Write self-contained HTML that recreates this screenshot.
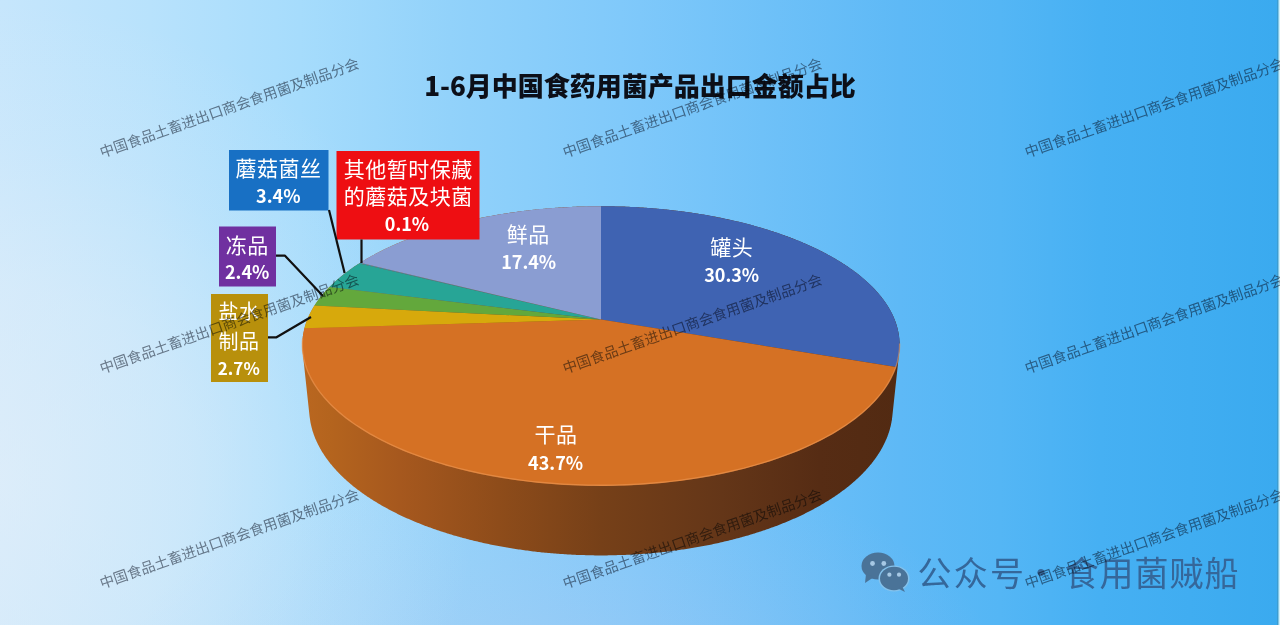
<!DOCTYPE html>
<html lang="zh-CN"><head><meta charset="utf-8"><title>1-6月中国食药用菌产品出口金额占比</title>
<style>
html,body{margin:0;padding:0;}
body{width:1280px;height:625px;overflow:hidden;position:relative;
background:radial-gradient(480px 480px at 0px 480px,rgba(238,242,248,0.55) 0%,rgba(238,242,248,0.4) 40%,rgba(238,242,248,0.15) 70%,rgba(238,242,248,0) 100%),radial-gradient(450px 250px at 560px 700px,rgba(200,200,235,0.3) 0%,rgba(200,200,235,0.15) 50%,rgba(200,200,235,0) 100%),linear-gradient(90deg,#c6e6fc 0px,#b8e2fc 150px,#a6dcfc 300px,#92d2fa 450px,#7ec8fa 640px,#5eb9f6 900px,#54b6f5 1000px,#46b0f3 1100px,#3aaaef 1280px);
font-family:"Liberation Sans","Noto Sans CJK SC",sans-serif;}
svg{position:absolute;left:0;top:0;}
.title{position:absolute;left:0;width:1280px;top:71.5px;text-align:center;font-family:"Noto Sans CJK SC",sans-serif;font-size:26px;line-height:26px;font-weight:900;color:#0c0f18;white-space:nowrap}
.tcs,.tns,.tc,.tn{position:absolute;width:200px;text-align:center;color:#fff;white-space:nowrap;font-family:"Noto Sans CJK SC",sans-serif}
.tc{font-size:21px;line-height:21px;font-weight:400;letter-spacing:0.5px;text-indent:0.5px}
.tn{font-size:18px;line-height:18px;font-weight:700}
.tcs{font-size:20px;line-height:20px;font-weight:400;letter-spacing:0.5px;text-indent:0.5px}
.tns{font-size:17px;line-height:18px;font-weight:700}
.wm{position:absolute;font-family:"Noto Sans CJK SC",sans-serif;font-size:14.4px;line-height:16px;font-weight:400;color:rgb(128,132,140);mix-blend-mode:multiply;white-space:nowrap;
transform-origin:0 8px;transform:rotate(-19.2deg);}
.wx{position:absolute;top:555px;font-family:"Noto Sans CJK SC",sans-serif;font-size:34px;line-height:34px;font-weight:400;color:#35679a;white-space:nowrap}
</style></head><body>
<svg width="1280" height="625" viewBox="0 0 1280 625">
<defs>
<linearGradient id="side" gradientUnits="userSpaceOnUse" x1="300" y1="0" x2="902" y2="0">
<stop offset="0" stop-color="#ba6720"/><stop offset="0.05" stop-color="#b4641e"/><stop offset="0.166" stop-color="#a6581e"/><stop offset="0.33" stop-color="#8e4c1a"/><stop offset="0.5" stop-color="#764018"/><stop offset="0.7" stop-color="#643618"/><stop offset="0.864" stop-color="#562c14"/><stop offset="1" stop-color="#522a12"/>
</linearGradient>
</defs>
<rect x="1277.5" y="0" width="1" height="625" fill="#3e90b4"/><rect x="1278.5" y="0" width="1.5" height="625" fill="#cdf0fa"/>
<path d="M309.6 416.6L302.7 352.2L302.6 351.6L302.5 350.9L302.5 350.3L302.5 349.7L302.4 349.1L302.4 348.4L302.3 347.8L302.3 347.2L302.3 346.5L302.3 345.9L302.3 345.3L302.3 344.7L302.3 344L302.3 343.4L302.3 342.8L302.4 342.2L302.4 341.6L302.4 340.9L302.5 340.3L302.5 339.7L302.6 339.1L302.6 338.5L302.7 337.8L302.8 337.2L302.8 336.6L302.9 336L303 335.4L303.1 334.8L303.2 334.1L303.3 333.5L303.4 332.9L303.5 332.3L303.7 331.7L303.8 331.1L303.9 330.5L304.1 329.9L304.2 329.3L304.3 328.6L304.5 328L304.7 327.4L304.8 326.8L305 326.2L305.2 325.6L305.4 325L305.5 324.4L305.7 323.8L305.9 323.2L306.1 322.6L306.3 322L306.6 321.4L306.8 320.8L307 320.2L307.2 319.6L307.5 319.1L307.7 318.5L308 317.9L308.2 317.3L308.5 316.7L308.7 316.1L309 315.6L309.3 315L309.5 314.4L309.8 313.8L310.1 313.3L310.4 312.7L310.7 312.1L311 311.5L311.3 311L311.6 310.4L311.9 309.8L312.2 309.3L312.6 308.7L312.9 308.1L313.2 307.6L313.6 307L313.9 306.5L314.3 305.9L314.6 305.3L315 304.8L315.3 304.2L315.7 303.7L316.1 303.1L316.5 302.6L316.9 302L317.2 301.5L317.6 300.9L318 300.4L318.4 299.8L318.8 299.3L319.3 298.7L319.7 298.2L320.1 297.6L320.5 297.1L320.9 296.5L321.4 296L321.8 295.5L322.3 294.9L322.7 294.4L323.2 293.9L323.6 293.3L324.1 292.8L324.5 292.3L325 291.7L325.5 291.2L326 290.7L326.4 290.2L326.9 289.6L327.4 289.1L327.9 288.6L328.4 288.1L328.9 287.5L329.4 287L329.9 286.5L330.5 286L331 285.5L331.5 285L332 284.5L332.6 284L333.1 283.4L333.6 282.9L334.2 282.4L334.7 281.9L335.3 281.4L335.9 280.9L336.4 280.4L337 279.9L337.5 279.4L338.1 278.9L338.7 278.4L339.3 278L339.9 277.5L340.5 277L341 276.5L341.6 276L342.2 275.5L342.8 275L343.5 274.5L344.1 274.1L344.7 273.6L345.3 273.1L345.9 272.6L346.6 272.2L347.2 271.7L347.8 271.2L348.5 270.7L349.1 270.3L349.7 269.8L350.4 269.3L351 268.9L351.7 268.4L352.4 268L353 267.5L353.7 267L354.3 266.6L355 266.1L355.7 265.7L356.4 265.2L357.1 264.8L357.7 264.3L358.4 263.9L359.1 263.4L359.8 263L360.5 262.5L361.2 262.1L361.9 261.7L362.6 261.2L363.4 260.8L364.1 260.4L364.8 259.9L365.5 259.5L366.2 259.1L367 258.6L367.7 258.2L368.4 257.8L369.2 257.4L369.9 256.9L370.7 256.5L371.4 256.1L372.2 255.7L372.9 255.3L373.7 254.9L374.4 254.4L375.2 254L376 253.6L376.7 253.2L377.5 252.8L378.3 252.4L379.1 252L379.8 251.6L380.6 251.2L381.4 250.8L382.2 250.4L383 250L383.8 249.6L384.6 249.2L385.4 248.8L386.2 248.5L387 248.1L387.8 247.7L388.6 247.3L389.4 246.9L390.3 246.5L391.1 246.2L391.9 245.8L392.7 245.4L393.5 245.1L394.4 244.7L395.2 244.3L396 243.9L396.9 243.6L397.7 243.2L398.6 242.9L399.4 242.5L400.3 242.1L401.1 241.8L402 241.4L402.8 241.1L403.7 240.7L404.5 240.4L405.4 240L406.3 239.7L407.1 239.3L408 239L408.9 238.6L409.8 238.3L410.6 238L411.5 237.6L412.4 237.3L413.3 237L414.2 236.6L415.1 236.3L415.9 236L416.8 235.7L417.7 235.3L418.6 235L419.5 234.7L420.4 234.4L421.3 234L422.2 233.7L423.2 233.4L424.1 233.1L425 232.8L425.9 232.5L426.8 232.2L427.7 231.9L428.7 231.6L429.6 231.3L430.5 231L431.4 230.7L432.4 230.4L433.3 230.1L434.2 229.8L435.2 229.5L436.1 229.2L437 228.9L438 228.6L438.9 228.4L439.9 228.1L440.8 227.8L441.8 227.5L442.7 227.2L443.7 227L444.6 226.7L445.6 226.4L446.5 226.2L447.5 225.9L448.4 225.6L449.4 225.4L450.4 225.1L451.3 224.8L452.3 224.6L453.3 224.3L454.3 224.1L455.2 223.8L456.2 223.6L457.2 223.3L458.2 223.1L459.1 222.8L460.1 222.6L461.1 222.3L462.1 222.1L463.1 221.8L464.1 221.6L465 221.4L466 221.1L467 220.9L468 220.7L469 220.4L470 220.2L471 220L472 219.8L473 219.6L474 219.3L475 219.1L476 218.9L477 218.7L478 218.5L479 218.3L480 218.1L481.1 217.8L482.1 217.6L483.1 217.4L484.1 217.2L485.1 217L486.1 216.8L487.2 216.6L488.2 216.5L489.2 216.3L490.2 216.1L491.2 215.9L492.3 215.7L493.3 215.5L494.3 215.3L495.4 215.1L496.4 215L497.4 214.8L498.4 214.6L499.5 214.4L500.5 214.3L501.6 214.1L502.6 213.9L503.6 213.8L504.7 213.6L505.7 213.4L506.7 213.3L507.8 213.1L508.8 213L509.9 212.8L510.9 212.6L512 212.5L513 212.3L514.1 212.2L515.1 212L516.2 211.9L517.2 211.8L518.3 211.6L519.3 211.5L520.4 211.3L521.4 211.2L522.5 211.1L523.5 210.9L524.6 210.8L525.6 210.7L526.7 210.5L527.8 210.4L528.8 210.3L529.9 210.2L530.9 210.1L532 209.9L533.1 209.8L534.1 209.7L535.2 209.6L536.3 209.5L537.3 209.4L538.4 209.3L539.5 209.2L540.5 209.1L541.6 209L542.7 208.9L543.7 208.8L544.8 208.7L545.9 208.6L546.9 208.5L548 208.4L549.1 208.3L550.2 208.2L551.2 208.1L552.3 208L553.4 208L554.4 207.9L555.5 207.8L556.6 207.7L557.7 207.7L558.7 207.6L559.8 207.5L560.9 207.4L562 207.4L563.1 207.3L564.1 207.3L565.2 207.2L566.3 207.1L567.4 207.1L568.5 207L569.5 207L570.6 206.9L571.7 206.9L572.8 206.8L573.9 206.8L574.9 206.7L576 206.7L577.1 206.6L578.2 206.6L579.3 206.6L580.4 206.5L581.4 206.5L582.5 206.5L583.6 206.4L584.7 206.4L585.8 206.4L586.9 206.4L587.9 206.3L589 206.3L590.1 206.3L591.2 206.3L592.3 206.3L593.4 206.2L594.4 206.2L595.5 206.2L596.6 206.2L597.7 206.2L598.8 206.2L599.9 206.2L601 206.2L602 206.2L603.1 206.2L604.2 206.2L605.3 206.2L606.4 206.2L607.5 206.2L608.6 206.2L609.6 206.3L610.7 206.3L611.8 206.3L612.9 206.3L614 206.3L615.1 206.4L616.1 206.4L617.2 206.4L618.3 206.4L619.4 206.5L620.5 206.5L621.6 206.5L622.6 206.6L623.7 206.6L624.8 206.6L625.9 206.7L627 206.7L628.1 206.8L629.1 206.8L630.2 206.9L631.3 206.9L632.4 207L633.5 207L634.5 207.1L635.6 207.1L636.7 207.2L637.8 207.3L638.9 207.3L639.9 207.4L641 207.4L642.1 207.5L643.2 207.6L644.2 207.7L645.3 207.7L646.4 207.8L647.5 207.9L648.5 208L649.6 208L650.7 208.1L651.8 208.2L652.8 208.3L653.9 208.4L655 208.5L656.1 208.6L657.1 208.7L658.2 208.8L659.3 208.9L660.3 209L661.4 209.1L662.5 209.2L663.5 209.3L664.6 209.4L665.7 209.5L666.7 209.6L667.8 209.7L668.9 209.8L669.9 209.9L671 210.1L672 210.2L673.1 210.3L674.2 210.4L675.2 210.5L676.3 210.7L677.3 210.8L678.4 210.9L679.4 211.1L680.5 211.2L681.6 211.3L682.6 211.5L683.7 211.6L684.7 211.8L685.8 211.9L686.8 212L687.9 212.2L688.9 212.3L689.9 212.5L691 212.6L692 212.8L693.1 213L694.1 213.1L695.2 213.3L696.2 213.4L697.2 213.6L698.3 213.8L699.3 213.9L700.4 214.1L701.4 214.3L702.4 214.4L703.5 214.6L704.5 214.8L705.5 215L706.6 215.1L707.6 215.3L708.6 215.5L709.6 215.7L710.7 215.9L711.7 216.1L712.7 216.3L713.7 216.5L714.8 216.6L715.8 216.8L716.8 217L717.8 217.2L718.8 217.4L719.8 217.6L720.9 217.8L721.9 218.1L722.9 218.3L723.9 218.5L724.9 218.7L725.9 218.9L726.9 219.1L727.9 219.3L728.9 219.6L729.9 219.8L730.9 220L731.9 220.2L732.9 220.4L733.9 220.7L734.9 220.9L735.9 221.1L736.9 221.4L737.9 221.6L738.9 221.8L739.8 222.1L740.8 222.3L741.8 222.6L742.8 222.8L743.8 223.1L744.7 223.3L745.7 223.6L746.7 223.8L747.7 224.1L748.6 224.3L749.6 224.6L750.6 224.8L751.5 225.1L752.5 225.4L753.5 225.6L754.4 225.9L755.4 226.2L756.3 226.4L757.3 226.7L758.3 227L759.2 227.2L760.2 227.5L761.1 227.8L762.1 228.1L763 228.4L763.9 228.6L764.9 228.9L765.8 229.2L766.8 229.5L767.7 229.8L768.6 230.1L769.6 230.4L770.5 230.7L771.4 231L772.3 231.3L773.3 231.6L774.2 231.9L775.1 232.2L776 232.5L776.9 232.8L777.8 233.1L778.8 233.4L779.7 233.7L780.6 234L781.5 234.4L782.4 234.7L783.3 235L784.2 235.3L785.1 235.7L786 236L786.9 236.3L787.7 236.6L788.6 237L789.5 237.3L790.4 237.6L791.3 238L792.2 238.3L793 238.6L793.9 239L794.8 239.3L795.6 239.7L796.5 240L797.4 240.4L798.2 240.7L799.1 241.1L799.9 241.4L800.8 241.8L801.7 242.1L802.5 242.5L803.3 242.9L804.2 243.2L805 243.6L805.9 243.9L806.7 244.3L807.5 244.7L808.4 245.1L809.2 245.4L810 245.8L810.8 246.2L811.7 246.5L812.5 246.9L813.3 247.3L814.1 247.7L814.9 248.1L815.7 248.5L816.5 248.8L817.3 249.2L818.1 249.6L818.9 250L819.7 250.4L820.5 250.8L821.3 251.2L822.1 251.6L822.9 252L823.6 252.4L824.4 252.8L825.2 253.2L825.9 253.6L826.7 254L827.5 254.4L828.2 254.9L829 255.3L829.7 255.7L830.5 256.1L831.2 256.5L832 256.9L832.7 257.4L833.5 257.8L834.2 258.2L834.9 258.6L835.7 259.1L836.4 259.5L837.1 259.9L837.8 260.4L838.6 260.8L839.3 261.2L840 261.7L840.7 262.1L841.4 262.5L842.1 263L842.8 263.4L843.5 263.9L844.2 264.3L844.9 264.8L845.5 265.2L846.2 265.7L846.9 266.1L847.6 266.6L848.2 267L848.9 267.5L849.6 268L850.2 268.4L850.9 268.9L851.5 269.3L852.2 269.8L852.8 270.3L853.5 270.7L854.1 271.2L854.7 271.7L855.4 272.2L856 272.6L856.6 273.1L857.2 273.6L857.8 274.1L858.5 274.5L859.1 275L859.7 275.5L860.3 276L860.9 276.5L861.5 277L862 277.5L862.6 278L863.2 278.4L863.8 278.9L864.4 279.4L864.9 279.9L865.5 280.4L866.1 280.9L866.6 281.4L867.2 281.9L867.7 282.4L868.3 282.9L868.8 283.4L869.3 284L869.9 284.5L870.4 285L870.9 285.5L871.5 286L872 286.5L872.5 287L873 287.5L873.5 288.1L874 288.6L874.5 289.1L875 289.6L875.5 290.2L876 290.7L876.4 291.2L876.9 291.7L877.4 292.3L877.8 292.8L878.3 293.3L878.8 293.9L879.2 294.4L879.7 294.9L880.1 295.5L880.5 296L881 296.5L881.4 297.1L881.8 297.6L882.2 298.2L882.7 298.7L883.1 299.3L883.5 299.8L883.9 300.4L884.3 300.9L884.7 301.5L885.1 302L885.4 302.6L885.8 303.1L886.2 303.7L886.6 304.2L886.9 304.8L887.3 305.3L887.6 305.9L888 306.5L888.3 307L888.7 307.6L889 308.1L889.3 308.7L889.7 309.3L890 309.8L890.3 310.4L890.6 311L890.9 311.5L891.2 312.1L891.5 312.7L891.8 313.3L892.1 313.8L892.4 314.4L892.7 315L892.9 315.6L893.2 316.1L893.5 316.7L893.7 317.3L894 317.9L894.2 318.5L894.4 319.1L894.7 319.6L894.9 320.2L895.1 320.8L895.4 321.4L895.6 322L895.8 322.6L896 323.2L896.2 323.8L896.4 324.4L896.6 325L896.7 325.6L896.9 326.2L897.1 326.8L897.3 327.4L897.4 328L897.6 328.6L897.7 329.3L897.9 329.9L898 330.5L898.1 331.1L898.3 331.7L898.4 332.3L898.5 332.9L898.6 333.5L898.7 334.1L898.8 334.8L898.9 335.4L899 336L899.1 336.6L899.1 337.2L899.2 337.8L899.3 338.5L899.3 339.1L899.4 339.7L899.4 340.3L899.5 340.9L899.5 341.6L899.6 342.2L899.6 342.8L899.6 343.4L899.6 344L899.6 344.7L899.6 345.3L899.6 345.9L899.6 346.5L899.6 347.2L899.6 347.8L899.5 348.4L899.5 349.1L899.5 349.7L899.4 350.3L899.4 350.9L899.3 351.6L899.2 352.2L892.3 416.6L892.2 417.3L892.1 417.9L892 418.6L892 419.2L891.9 419.9L891.8 420.6L891.6 421.2L891.5 421.9L891.4 422.5L891.3 423.2L891.1 423.8L891 424.5L890.9 425.2L890.7 425.8L890.6 426.5L890.4 427.1L890.2 427.8L890 428.5L889.9 429.1L889.7 429.8L889.5 430.4L889.3 431.1L889.1 431.8L888.9 432.4L888.6 433.1L888.4 433.7L888.2 434.4L887.9 435.1L887.7 435.7L887.5 436.4L887.2 437L886.9 437.7L886.7 438.4L886.4 439L886.1 439.7L885.8 440.3L885.5 441L885.2 441.7L884.9 442.3L884.6 443L884.3 443.6L884 444.3L883.6 445L883.3 445.6L883 446.3L882.6 446.9L882.3 447.6L881.9 448.2L881.5 448.9L881.1 449.6L880.8 450.2L880.4 450.9L880 451.5L879.6 452.2L879.2 452.8L878.8 453.5L878.3 454.1L877.9 454.8L877.5 455.4L877 456.1L876.6 456.7L876.1 457.4L875.7 458L875.2 458.7L874.8 459.3L874.3 460L873.8 460.6L873.3 461.3L872.8 461.9L872.3 462.6L871.8 463.2L871.3 463.9L870.8 464.5L870.2 465.1L869.7 465.8L869.1 466.4L868.6 467.1L868 467.7L867.5 468.3L866.9 469L866.3 469.6L865.8 470.2L865.2 470.9L864.6 471.5L864 472.1L863.4 472.8L862.8 473.4L862.1 474L861.5 474.7L860.9 475.3L860.3 475.9L859.6 476.5L859 477.2L858.3 477.8L857.6 478.4L857 479L856.3 479.6L855.6 480.3L854.9 480.9L854.2 481.5L853.5 482.1L852.8 482.7L852.1 483.3L851.4 483.9L850.7 484.5L849.9 485.2L849.2 485.8L848.4 486.4L847.7 487L846.9 487.6L846.2 488.2L845.4 488.8L844.6 489.4L843.8 490L843 490.6L842.2 491.1L841.4 491.7L840.6 492.3L839.8 492.9L839 493.5L838.2 494.1L837.3 494.7L836.5 495.2L835.6 495.8L834.8 496.4L833.9 497L833.1 497.6L832.2 498.1L831.3 498.7L830.4 499.3L829.5 499.8L828.6 500.4L827.7 501L826.8 501.5L825.9 502.1L825 502.6L824.1 503.2L823.1 503.7L822.2 504.3L821.3 504.8L820.3 505.4L819.4 505.9L818.4 506.5L817.4 507L816.5 507.6L815.5 508.1L814.5 508.6L813.5 509.2L812.5 509.7L811.5 510.2L810.5 510.7L809.5 511.3L808.5 511.8L807.4 512.3L806.4 512.8L805.4 513.3L804.3 513.9L803.3 514.4L802.2 514.9L801.2 515.4L800.1 515.9L799 516.4L798 516.9L796.9 517.4L795.8 517.9L794.7 518.4L793.6 518.8L792.5 519.3L791.4 519.8L790.3 520.3L789.2 520.8L788 521.2L786.9 521.7L785.8 522.2L784.6 522.7L783.5 523.1L782.3 523.6L781.2 524L780 524.5L778.8 525L777.7 525.4L776.5 525.9L775.3 526.3L774.1 526.7L772.9 527.2L771.7 527.6L770.5 528.1L769.3 528.5L768.1 528.9L766.9 529.3L765.7 529.8L764.5 530.2L763.2 530.6L762 531L760.7 531.4L759.5 531.8L758.3 532.2L757 532.6L755.7 533L754.5 533.4L753.2 533.8L751.9 534.2L750.7 534.6L749.4 535L748.1 535.4L746.8 535.7L745.5 536.1L744.2 536.5L742.9 536.8L741.6 537.2L740.3 537.6L739 537.9L737.7 538.3L736.3 538.6L735 539L733.7 539.3L732.3 539.7L731 540L729.7 540.3L728.3 540.7L727 541L725.6 541.3L724.2 541.6L722.9 542L721.5 542.3L720.1 542.6L718.8 542.9L717.4 543.2L716 543.5L714.6 543.8L713.2 544.1L711.9 544.4L710.5 544.7L709.1 544.9L707.7 545.2L706.3 545.5L704.8 545.8L703.4 546L702 546.3L700.6 546.6L699.2 546.8L697.8 547.1L696.3 547.3L694.9 547.6L693.5 547.8L692 548L690.6 548.3L689.2 548.5L687.7 548.7L686.3 549L684.8 549.2L683.4 549.4L681.9 549.6L680.5 549.8L679 550L677.6 550.2L676.1 550.4L674.6 550.6L673.2 550.8L671.7 551L670.2 551.2L668.8 551.4L667.3 551.5L665.8 551.7L664.3 551.9L662.8 552L661.4 552.2L659.9 552.4L658.4 552.5L656.9 552.7L655.4 552.8L653.9 552.9L652.4 553.1L650.9 553.2L649.4 553.3L647.9 553.5L646.4 553.6L644.9 553.7L643.4 553.8L641.9 553.9L640.4 554L638.9 554.1L637.4 554.2L635.9 554.3L634.4 554.4L632.9 554.5L631.3 554.6L629.8 554.7L628.3 554.7L626.8 554.8L625.3 554.9L623.8 554.9L622.3 555L620.7 555L619.2 555.1L617.7 555.1L616.2 555.2L614.7 555.2L613.1 555.3L611.6 555.3L610.1 555.3L608.6 555.3L607 555.4L605.5 555.4L604 555.4L602.5 555.4L601 555.4L599.4 555.4L597.9 555.4L596.4 555.4L594.9 555.4L593.3 555.3L591.8 555.3L590.3 555.3L588.8 555.3L587.3 555.2L585.7 555.2L584.2 555.1L582.7 555.1L581.2 555L579.7 555L578.1 554.9L576.6 554.9L575.1 554.8L573.6 554.7L572.1 554.7L570.6 554.6L569.1 554.5L567.5 554.4L566 554.3L564.5 554.2L563 554.1L561.5 554L560 553.9L558.5 553.8L557 553.7L555.5 553.6L554 553.5L552.5 553.3L551 553.2L549.5 553.1L548 552.9L546.5 552.8L545 552.7L543.5 552.5L542 552.4L540.6 552.2L539.1 552L537.6 551.9L536.1 551.7L534.6 551.5L533.2 551.4L531.7 551.2L530.2 551L528.8 550.8L527.3 550.6L525.8 550.4L524.4 550.2L522.9 550L521.4 549.8L520 549.6L518.5 549.4L517.1 549.2L515.6 549L514.2 548.7L512.7 548.5L511.3 548.3L509.9 548L508.4 547.8L507 547.6L505.6 547.3L504.1 547.1L502.7 546.8L501.3 546.6L499.9 546.3L498.5 546L497.1 545.8L495.7 545.5L494.3 545.2L492.9 544.9L491.5 544.7L490.1 544.4L488.7 544.1L487.3 543.8L485.9 543.5L484.5 543.2L483.1 542.9L481.8 542.6L480.4 542.3L479 542L477.7 541.6L476.3 541.3L475 541L473.6 540.7L472.3 540.3L470.9 540L469.6 539.7L468.2 539.3L466.9 539L465.6 538.6L464.3 538.3L462.9 537.9L461.6 537.6L460.3 537.2L459 536.8L457.7 536.5L456.4 536.1L455.1 535.7L453.8 535.4L452.5 535L451.3 534.6L450 534.2L448.7 533.8L447.4 533.4L446.2 533L444.9 532.6L443.7 532.2L442.4 531.8L441.2 531.4L439.9 531L438.7 530.6L437.5 530.2L436.2 529.8L435 529.3L433.8 528.9L432.6 528.5L431.4 528.1L430.2 527.6L429 527.2L427.8 526.7L426.6 526.3L425.4 525.9L424.2 525.4L423.1 525L421.9 524.5L420.7 524L419.6 523.6L418.4 523.1L417.3 522.7L416.2 522.2L415 521.7L413.9 521.2L412.8 520.8L411.6 520.3L410.5 519.8L409.4 519.3L408.3 518.8L407.2 518.4L406.1 517.9L405 517.4L404 516.9L402.9 516.4L401.8 515.9L400.7 515.4L399.7 514.9L398.6 514.4L397.6 513.9L396.5 513.3L395.5 512.8L394.5 512.3L393.4 511.8L392.4 511.3L391.4 510.7L390.4 510.2L389.4 509.7L388.4 509.2L387.4 508.6L386.4 508.1L385.5 507.6L384.5 507L383.5 506.5L382.6 505.9L381.6 505.4L380.6 504.8L379.7 504.3L378.8 503.7L377.8 503.2L376.9 502.6L376 502.1L375.1 501.5L374.2 501L373.3 500.4L372.4 499.8L371.5 499.3L370.6 498.7L369.7 498.1L368.9 497.6L368 497L367.1 496.4L366.3 495.8L365.4 495.2L364.6 494.7L363.8 494.1L362.9 493.5L362.1 492.9L361.3 492.3L360.5 491.7L359.7 491.1L358.9 490.6L358.1 490L357.3 489.4L356.5 488.8L355.8 488.2L355 487.6L354.2 487L353.5 486.4L352.7 485.8L352 485.2L351.3 484.5L350.5 483.9L349.8 483.3L349.1 482.7L348.4 482.1L347.7 481.5L347 480.9L346.3 480.3L345.6 479.6L344.9 479L344.3 478.4L343.6 477.8L343 477.2L342.3 476.5L341.7 475.9L341 475.3L340.4 474.7L339.8 474L339.2 473.4L338.5 472.8L337.9 472.1L337.3 471.5L336.7 470.9L336.2 470.2L335.6 469.6L335 469L334.4 468.3L333.9 467.7L333.3 467.1L332.8 466.4L332.2 465.8L331.7 465.1L331.2 464.5L330.6 463.9L330.1 463.2L329.6 462.6L329.1 461.9L328.6 461.3L328.1 460.6L327.6 460L327.2 459.3L326.7 458.7L326.2 458L325.8 457.4L325.3 456.7L324.9 456.1L324.4 455.4L324 454.8L323.6 454.1L323.2 453.5L322.7 452.8L322.3 452.2L321.9 451.5L321.5 450.9L321.2 450.2L320.8 449.6L320.4 448.9L320 448.2L319.7 447.6L319.3 446.9L319 446.3L318.6 445.6L318.3 445L317.9 444.3L317.6 443.6L317.3 443L317 442.3L316.7 441.7L316.4 441L316.1 440.3L315.8 439.7L315.5 439L315.2 438.4L315 437.7L314.7 437L314.5 436.4L314.2 435.7L314 435.1L313.7 434.4L313.5 433.7L313.3 433.1L313.1 432.4L312.8 431.8L312.6 431.1L312.4 430.4L312.2 429.8L312.1 429.1L311.9 428.5L311.7 427.8L311.5 427.1L311.4 426.5L311.2 425.8L311.1 425.2L310.9 424.5L310.8 423.8L310.6 423.2L310.5 422.5L310.4 421.9L310.3 421.2L310.2 420.6L310.1 419.9L310 419.2L309.9 418.6L309.8 417.9L309.7 417.3Z" fill="url(#side)"/>
<path d="M601 319.6L601 206.2L605.3 206.2L609.6 206.3L614 206.3L618.3 206.4L622.7 206.6L627 206.7L631.3 206.9L635.6 207.1L640 207.4L644.3 207.7L648.6 208L652.9 208.3L657.2 208.7L661.4 209.1L665.7 209.5L670 209.9L674.2 210.4L678.4 210.9L682.7 211.5L686.9 212.1L691.1 212.7L695.2 213.3L699.4 213.9L703.5 214.6L707.7 215.3L711.8 216.1L715.9 216.9L719.9 217.7L724 218.5L728 219.4L732 220.2L736 221.2L739.9 222.1L743.9 223.1L747.8 224.1L751.6 225.1L755.5 226.2L759.3 227.3L763.1 228.4L766.9 229.5L770.6 230.7L774.3 231.9L778 233.1L781.6 234.4L785.2 235.7L788.8 237L792.3 238.4L795.8 239.7L799.2 241.1L802.6 242.5L806 244L809.3 245.5L812.6 247L815.9 248.5L819 250.1L822.2 251.7L825.3 253.3L828.4 254.9L831.4 256.6L834.3 258.3L837.2 260L840.1 261.7L842.9 263.5L845.7 265.3L848.4 267.1L851 269L853.6 270.8L856.1 272.7L858.6 274.6L861 276.6L863.3 278.5L865.6 280.5L867.8 282.5L870 284.6L872.1 286.6L874.1 288.7L876.1 290.8L877.9 292.9L879.8 295.1L881.5 297.2L883.2 299.4L884.8 301.6L886.3 303.8L887.7 306L889.1 308.3L890.4 310.6L891.6 312.8L892.7 315.1L893.8 317.5L894.7 319.8L895.6 322.2L896.4 324.6L897.1 327L897.8 329.4L898.3 331.9L898.7 334.3L899.1 336.8L899.4 339.3L899.5 341.7L899.6 344.2L899.6 346.7L899.5 349.2L899.3 351.8L899 354.3L898.6 356.8L898.1 359.3L897.5 361.9L896.8 364.4L896 366.9Z" fill="#3f63b2"/>
<path d="M601 319.6L896 366.9L895.1 369.5L894.1 372L893 374.6L891.8 377.1L890.5 379.6L889.1 382.2L887.6 384.7L886 387.2L884.2 389.7L882.4 392.2L880.5 394.7L878.4 397.2L876.3 399.7L874 402.2L871.6 404.6L869.2 407L866.6 409.5L863.9 411.9L861.1 414.3L858.2 416.6L855.2 419L852.1 421.3L848.9 423.6L845.6 425.9L842.2 428.1L838.7 430.3L835.1 432.5L831.3 434.7L827.5 436.8L823.6 438.9L819.6 441L815.5 443.1L811.3 445.1L807 447L802.6 449L798.1 450.9L793.5 452.7L788.8 454.5L784.1 456.3L779.3 458L774.3 459.7L769.3 461.4L764.2 463L759.1 464.5L753.9 466L748.5 467.5L743.2 468.9L737.7 470.3L732.2 471.6L726.6 472.8L721 474L715.3 475.2L709.5 476.3L703.7 477.3L697.9 478.3L692 479.2L686 480.1L680 480.9L674 481.6L667.9 482.3L661.8 482.9L655.7 483.5L649.5 484L643.3 484.5L637.1 484.8L630.9 485.2L624.6 485.4L618.4 485.6L612.1 485.8L605.8 485.9L599.6 485.9L593.3 485.8L587 485.7L580.8 485.6L574.5 485.3L568.3 485L562 484.7L555.8 484.3L549.7 483.8L543.5 483.3L537.4 482.7L531.3 482L525.2 481.3L519.2 480.5L513.2 479.7L507.3 478.8L501.4 477.8L495.6 476.8L489.8 475.8L484.1 474.7L478.4 473.5L472.8 472.3L467.2 471L461.7 469.7L456.3 468.3L451 466.8L445.7 465.4L440.5 463.8L435.4 462.3L430.3 460.6L425.4 459L420.5 457.3L415.7 455.5L411 453.7L406.3 451.9L401.8 450L397.4 448.1L393 446.2L388.7 444.2L384.6 442.1L380.5 440.1L376.5 438L372.7 435.9L368.9 433.7L365.2 431.5L361.6 429.3L358.2 427.1L354.8 424.8L351.5 422.6L348.4 420.2L345.3 417.9L342.4 415.6L339.5 413.2L336.8 410.8L334.2 408.4L331.6 406L329.2 403.5L326.9 401.1L324.7 398.6L322.6 396.1L320.6 393.6L318.7 391.1L316.9 388.6L315.2 386.1L313.6 383.6L312.2 381L310.8 378.5L309.6 376L308.4 373.4L307.3 370.9L306.4 368.3L305.5 365.8L304.8 363.3L304.1 360.7L303.6 358.2L303.1 355.7L302.8 353.1L302.5 350.6L302.4 348.1L302.3 345.6L302.3 343.1L302.5 340.6L302.7 338.1L303 335.6L303.4 333.2L303.9 330.7L304.4 328.3Z" fill="#d57124"/>
<path d="M601 319.6L304.4 328.3L305.2 325.7L306 323.1L306.9 320.5L307.9 318L309 315.5L310.3 313L311.6 310.5L313 308.1L314.4 305.6Z" fill="#d7a90c"/>
<path d="M601 319.6L314.4 305.6L316 303.2L317.7 300.8L319.4 298.5L321.3 296.1L323.2 293.8L325.2 291.5L327.3 289.3L329.5 287Z" fill="#63a83c"/>
<path d="M601 319.6L329.5 287L331.6 284.9L333.8 282.8L336 280.8L338.3 278.8L340.7 276.8L343.2 274.8L345.7 272.8L348.2 270.9L350.9 269L353.6 267.1L356.3 265.3L359.1 263.4Z" fill="#27a596"/>
<path d="M601 319.6L359.1 263.4L360.1 262.8Z" fill="#2d8fb0"/>
<path d="M601 319.6L360.1 262.8L363 261L365.9 259.3L368.9 257.5L371.9 255.8L374.9 254.2L378 252.5L381.2 250.9L384.4 249.3L387.7 247.8L391 246.2L394.3 244.7L397.7 243.2L401.1 241.8L404.6 240.4L408.1 239L411.6 237.6L415.2 236.3L418.8 234.9L422.5 233.7L426.1 232.4L429.9 231.2L433.6 230L437.4 228.8L441.2 227.7L445.1 226.6L448.9 225.5L452.8 224.4L456.8 223.4L460.7 222.4L464.7 221.4L468.7 220.5L472.8 219.6L476.8 218.7L480.9 217.9L485 217.1L489.1 216.3L493.3 215.5L497.4 214.8L501.6 214.1L505.8 213.4L510 212.8L514.2 212.2L518.5 211.6L522.7 211L527 210.5L531.3 210L535.6 209.6L539.9 209.1L544.2 208.7L548.5 208.3L552.9 208L557.2 207.7L561.6 207.4L565.9 207.2L570.3 206.9L574.7 206.7L579 206.6L583.4 206.4L587.8 206.3L592.2 206.3L596.6 206.2L601 206.2Z" fill="#8a9dd2"/>
<path d="M899.6 343.4L899.6 345.9L899.5 348.5L899.3 351L899 353.5L898.6 356L898.1 358.5L897.6 361.1L896.9 363.6L896.1 366.1L895.2 368.7L894.2 371.2L893.1 373.7L891.9 376.3L890.6 378.8L889.2 381.3L887.7 383.9L886.1 386.4L884.4 388.9L882.6 391.4L880.7 393.9L878.6 396.4L876.5 398.8L874.3 401.3L871.9 403.7L869.5 406.2L866.9 408.6L864.2 411L861.5 413.4L858.6 415.7L855.6 418.1L852.5 420.4L849.3 422.7L846 425L842.7 427.2L839.2 429.4L835.6 431.6L831.9 433.8L828.1 435.9L824.2 438L820.2 440.1L816.1 442.2L811.9 444.2L807.6 446.1L803.2 448.1L798.8 450L794.2 451.8L789.6 453.7L784.9 455.4L780 457.2L775.1 458.9L770.2 460.5L765.1 462.1L760 463.7L754.8 465.2L749.5 466.6L744.1 468.1L738.7 469.4L733.2 470.7L727.6 472L722 473.2L716.3 474.4L710.6 475.5L704.8 476.5L699 477.5L693.1 478.4L687.2 479.3L681.2 480.1L675.2 480.9L669.1 481.6L663 482.2L656.9 482.8L650.8 483.3L644.6 483.8L638.4 484.2L632.2 484.5L626 484.8L619.7 485L613.5 485.2L607.2 485.2L601 485.3L594.7 485.2L588.4 485.2L582.2 485L576 484.8L569.7 484.5L563.5 484.2L557.3 483.8L551.1 483.3L545 482.8L538.9 482.2L532.8 481.6L526.7 480.9L520.7 480.1L514.8 479.3L508.8 478.4L502.9 477.5L497.1 476.5L491.3 475.5L485.6 474.4L479.9 473.2L474.3 472L468.7 470.7L463.2 469.4L457.8 468.1L452.4 466.6L447.2 465.2L442 463.7L436.8 462.1L431.8 460.5L426.8 458.9L421.9 457.2L417.1 455.4L412.3 453.7L407.7 451.8L403.1 450L398.7 448.1L394.3 446.1L390 444.2L385.8 442.2L381.7 440.1L377.7 438L373.9 435.9L370.1 433.8L366.4 431.6L362.8 429.4L359.3 427.2L355.9 425L352.6 422.7L349.4 420.4L346.3 418.1L343.3 415.7L340.5 413.4L337.7 411L335 408.6L332.5 406.2L330 403.7L327.7 401.3L325.4 398.8L323.3 396.4L321.3 393.9L319.3 391.4L317.5 388.9L315.8 386.4L314.2 383.9L312.7 381.3L311.3 378.8L310 376.3L308.8 373.7L307.7 371.2L306.7 368.7L305.8 366.1L305 363.6L304.4 361.1L303.8 358.5L303.3 356L302.9 353.5L302.6 351L302.4 348.5L302.3 345.9L302.3 343.4L302.4 341L302.6 338.5" fill="none" stroke="#ee9a5a" stroke-opacity="0.55" stroke-width="1.4"/>
<rect x="229" y="150" width="99.5" height="60.5" fill="#1870c4"/>
<rect x="336.5" y="151" width="143" height="88.5" fill="#ee0e12"/>
<rect x="219" y="226.5" width="57" height="60" fill="#7030a0"/>
<rect x="211" y="294" width="57" height="88" fill="#b8900c"/>
<g stroke="#111" stroke-width="2.2" fill="none" stroke-linejoin="round">
<polyline points="329,210 344.6,273"/>
<polyline points="361.5,239.5 361.5,263"/>
<polyline points="276,255.7 285,255.7 323,296"/>
<polyline points="268,337.3 276.5,337.3 311,317"/>
</g>
</svg>
<div class="title">1-6月中国食药用菌产品出口金额占比</div>
<div class="tc" style="left:178.3px;top:156.9px">蘑菇菌丝</div>
<div class="tn" style="left:178.3px;top:185.6px">3.4%</div>
<div class="tc" style="left:308.1px;top:158.4px">其他暂时保藏</div>
<div class="tc" style="left:308.0px;top:185.0px">的蘑菇及块菌</div>
<div class="tn" style="left:307.0px;top:213.9px">0.1%</div>
<div class="tc" style="left:146.9px;top:234.0px">冻品</div>
<div class="tn" style="left:147.2px;top:262.4px">2.4%</div>
<div class="tcs" style="left:138.8px;top:301.1px">盐水</div>
<div class="tcs" style="left:138.8px;top:331.0px">制品</div>
<div class="tns" style="left:138.8px;top:358.5px">2.7%</div>
<div class="tc" style="left:428.0px;top:223.4px">鲜品</div>
<div class="tn" style="left:428.7px;top:252.4px">17.4%</div>
<div class="tc" style="left:631.5px;top:235.7px">罐头</div>
<div class="tn" style="left:631.7px;top:265.4px">30.3%</div>
<div class="tc" style="left:455.7px;top:423.2px">干品</div>
<div class="tn" style="left:455.6px;top:452.9px">43.7%</div>
<svg width="50" height="42" viewBox="0 0 50 42" style="left:860px;top:551px">
<g fill="#4a7398">
<ellipse cx="18" cy="15" rx="16.5" ry="13.5"/>
<path d="M6 23 L5 32 L14 26 Z"/>
</g>
<ellipse cx="34" cy="27.5" rx="15.5" ry="13" fill="#84c2ec"/>
<g fill="#4a7398">
<ellipse cx="34" cy="27.5" rx="14" ry="11.8"/>
<path d="M42 35 L45 41 L37 37 Z"/>
</g>
<g fill="#a6c8e4"><circle cx="12.5" cy="12.5" r="2.4"/><circle cx="23.8" cy="12.5" r="2.4"/><circle cx="29.4" cy="23.7" r="2.1"/><circle cx="39" cy="23.7" r="2.1"/></g>
</svg>
<div class="wx" style="left:917.5px;letter-spacing:2.2px">公众号</div><div class="wx" style="left:1024px">·</div><div class="wx" style="left:1064.6px;letter-spacing:1px">食用菌贼船</div>
<div class="wm" style="left:99.9px;top:144.1px">中国食品土畜进出口商会食用菌及制品分会</div>
<div class="wm" style="left:562.9px;top:144.1px">中国食品土畜进出口商会食用菌及制品分会</div>
<div class="wm" style="left:1024.9px;top:144.1px">中国食品土畜进出口商会食用菌及制品分会</div>
<div class="wm" style="left:99.9px;top:359.6px">中国食品土畜进出口商会食用菌及制品分会</div>
<div class="wm" style="left:562.9px;top:359.6px">中国食品土畜进出口商会食用菌及制品分会</div>
<div class="wm" style="left:1024.9px;top:359.6px">中国食品土畜进出口商会食用菌及制品分会</div>
<div class="wm" style="left:99.9px;top:575.1px">中国食品土畜进出口商会食用菌及制品分会</div>
<div class="wm" style="left:562.9px;top:575.1px">中国食品土畜进出口商会食用菌及制品分会</div>
<div class="wm" style="left:1024.9px;top:575.1px">中国食品土畜进出口商会食用菌及制品分会</div>
</body></html>
